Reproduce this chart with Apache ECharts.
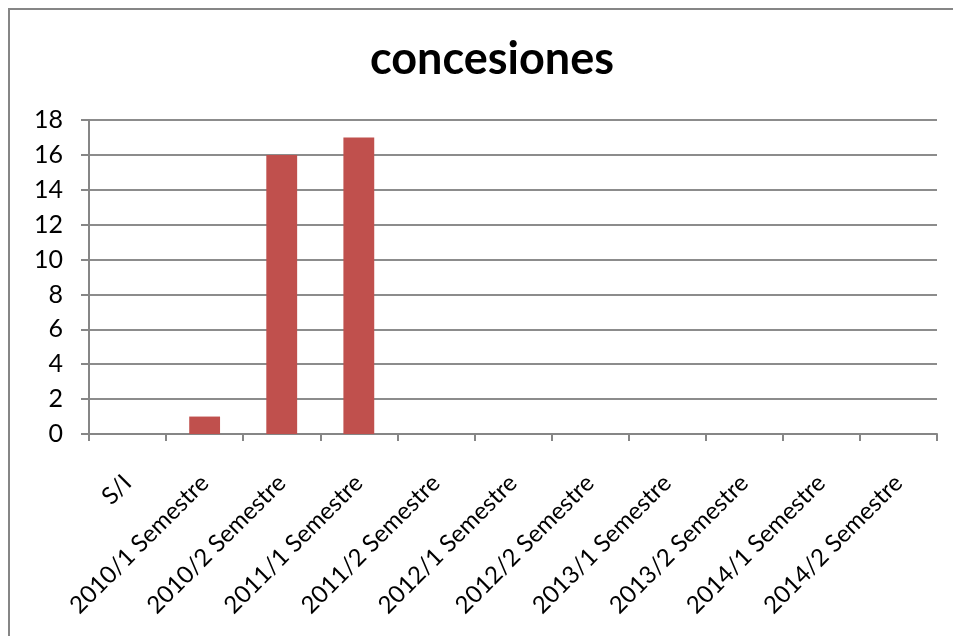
<!DOCTYPE html>
<html><head><meta charset="utf-8">
<script src="https://cdn.jsdelivr.net/npm/echarts@6/dist/echarts.min.js"></script>
<style>html,body{margin:0;padding:0;background:#fff;}#c{width:953px;height:636px;}</style>
</head><body><div id="c"></div>
<script>
const categories = ["S/I","2010/1 Semestre","2010/2 Semestre","2011/1 Semestre","2011/2 Semestre","2012/1 Semestre","2012/2 Semestre","2013/1 Semestre","2013/2 Semestre","2014/1 Semestre","2014/2 Semestre"];
const values = [0,1,16,17,0,0,0,0,0,0,0];
const yTicks = {min:0,max:18,interval:2};
const chart = echarts.init(document.getElementById('c'));
const F = 'Lato, "Liberation Sans", sans-serif';
chart.setOption({
  animation:false,
  title:{text:'concesiones',left:487,textAlign:'center',top:32,textStyle:{fontFamily:F,fontSize:45,fontWeight:'bold',color:'#000'}},
  graphic:[{type:'rect',shape:{x:9,y:9,width:1200,height:1200},style:{fill:'none',stroke:'#868686',lineWidth:2}}],
  grid:{left:89,right:16,top:120,bottom:202},
  xAxis:{type:'category',data:categories,
    axisLine:{lineStyle:{color:'#868686',width:2}},
    axisTick:{show:true,interval:0,length:7,lineStyle:{color:'#868686',width:2}},
    axisLabel:{interval:0,rotate:45,margin:45,fontFamily:F,fontSize:24,color:'#000'}},
  yAxis:{type:'value',min:yTicks.min,max:yTicks.max,interval:yTicks.interval,
    axisLine:{show:true,lineStyle:{color:'#868686',width:2}},
    axisTick:{show:true,length:8,lineStyle:{color:'#868686',width:2}},
    splitLine:{lineStyle:{color:'#8c8c8c',width:2}},
    axisLabel:{margin:26,fontFamily:F,fontSize:25,color:'#000'}},
  series:[{type:'bar',data:values,barWidth:'40%',itemStyle:{color:'#C0504D'}}]
});
</script></body></html>
